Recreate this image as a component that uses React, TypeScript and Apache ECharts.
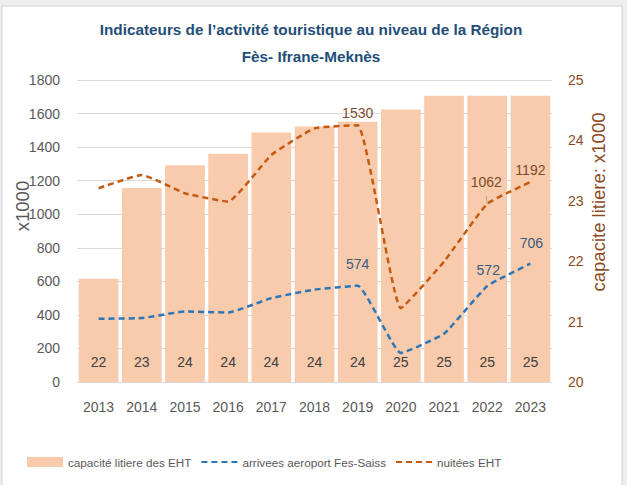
import React, { useEffect, useRef } from "react";
import * as echarts from "echarts";

const years = ["2013", "2014", "2015", "2016", "2017", "2018", "2019", "2020", "2021", "2022", "2023"];
const capacite = [21.71, 23.21, 23.59, 23.78, 24.13, 24.23, 24.31, 24.51, 24.74, 24.74, 24.74];
const arrivees = [377, 381, 420, 414, 500, 551, 574, 173, 288, 572, 706];
const nuitees = [1155, 1234, 1125, 1075, 1353, 1512, 1530, 440, 718, 1062, 1192];
const arriveesLabeled = ["2019", "2022", "2023"];
const nuiteesLabeled = ["2019", "2022", "2023"];

const FONT = "'Liberation Sans', Arial, sans-serif";

export default function App() {
  const ref = useRef<HTMLDivElement>(null);
  useEffect(() => {
    if (!ref.current) return;
    const chart = echarts.init(ref.current, null, { renderer: "svg" });
    const labelOffsets: Record<string, number[]> = {
      n2019: [0, 0], n2022: [-1, -10], n2023: [0, 0],
      a2019: [0, -10], a2022: [1, -4], a2023: [1, -8],
    };
    const mkLabel = (key: string, color: string) => ({
      show: true,
      position: "top",
      offset: labelOffsets[key],
      fontFamily: FONT,
      fontSize: 14,
      color,
    });
    chart.setOption({
      animation: false,
      backgroundColor: "#ffffff",
      textStyle: { fontFamily: FONT },
      graphic: [
        { type: "rect", shape: { x: 0, y: 0, width: 627, height: 485 }, style: { fill: "#eeeeee" }, z: -10 },
        { type: "rect", shape: { x: 2, y: 6, width: 620, height: 485 }, style: { fill: "#ffffff", stroke: "#d0d0d0", lineWidth: 1 }, z: -9 },
      ],
      title: {
        text: "Indicateurs de l’activité touristique au niveau de la Région\nFès- Ifrane-Meknès",
        left: 306,
        textAlign: "center",
        top: 11,
        textStyle: { fontFamily: FONT, fontSize: 15.3, fontWeight: "bold", color: "#1F4E79", lineHeight: 27 },
      },
      legend: {
        bottom: 12,
        left: 22,
        itemWidth: 36,
        itemHeight: 10,
        itemGap: 9,
        textStyle: { fontFamily: FONT, fontSize: 11.7, color: "#595959" },
        data: [
          { name: "capacité litiere des EHT", icon: "rect" },
          { name: "arrivees aeroport Fes-Saiss", itemStyle: { opacity: 0 } },
          { name: "nuitées EHT", itemStyle: { opacity: 0 } },
        ],
      },
      grid: { left: 77, right: 75, top: 80, bottom: 103, containLabel: false, outerBoundsMode: "none" },
      xAxis: {
        type: "category",
        data: years,
        axisLine: { lineStyle: { color: "#d9d9d9", width: 1 } },
        axisTick: { show: false },
        axisLabel: { fontFamily: FONT, fontSize: 14, color: "#595959", margin: 18 },
      },
      yAxis: [
        {
          type: "value",
          min: 0,
          max: 1800,
          interval: 200,
          name: "x1000",
          nameLocation: "middle",
          nameGap: 45,
          nameMoveOverlap: false,
          nameRotate: 90,
          nameTextStyle: { fontFamily: FONT, fontSize: 18.5, color: "#595959", padding: [0, 0, 0, 50] },
          axisLine: { show: false },
          axisTick: { show: false },
          axisLabel: { fontFamily: FONT, fontSize: 14, color: "#595959", margin: 17, formatter: (v: number) => String(v) },
          splitLine: { lineStyle: { color: "#d9d9d9", width: 1 } },
        },
        {
          type: "value",
          min: 20,
          max: 25,
          interval: 1,
          name: "capacite litiere: x1000",
          nameLocation: "middle",
          nameGap: 37,
          nameMoveOverlap: false,
          nameRotate: 90,
          nameTextStyle: { fontFamily: FONT, fontSize: 18.5, color: "#8B4A1E", padding: [0, 0, 0, 58] },
          axisLine: { show: false },
          axisTick: { show: false },
          axisLabel: { fontFamily: FONT, fontSize: 14, color: "#8B4A1E", margin: 16 },
          splitLine: { show: false },
        },
      ],
      series: [
        {
          name: "capacité litiere des EHT",
          type: "bar",
          yAxisIndex: 1,
          data: capacite,
          barCategoryGap: "8%",
          itemStyle: { color: "#F8CBAD" },
          label: {
            show: true,
            position: "insideBottom",
            distance: 13,
            fontFamily: FONT,
            fontSize: 14,
            color: "#404040",
            formatter: (p: any) => String(Math.round(p.value)),
          },
          z: 1,
        },
        {
          name: "arrivees aeroport Fes-Saiss",
          type: "line",
          yAxisIndex: 0,
          smooth: 0.12,
          symbol: "circle",
          symbolSize: 0.1,
          showSymbol: true,
          lineStyle: { color: "#2E75B6", width: 2.5, type: [6, 4] },
          itemStyle: { color: "#2E75B6" },
          data: arrivees.map((v, i) => ({
            value: v,
            label: arriveesLabeled.includes(years[i]) ? mkLabel("a" + years[i], "#3A5A80") : { show: false },
          })),
          z: 3,
        },
        {
          name: "nuitées EHT",
          type: "line",
          yAxisIndex: 0,
          smooth: 0.12,
          symbol: "circle",
          symbolSize: 0.1,
          showSymbol: true,
          lineStyle: { color: "#C55A11", width: 2.5, type: [6, 4] },
          itemStyle: { color: "#C55A11" },
          data: nuitees.map((v, i) => ({
            value: v,
            label: nuiteesLabeled.includes(years[i]) ? mkLabel("n" + years[i], "#7F4A2A") : { show: false },
            labelLine: years[i] === "2022" ? { show: true, lineStyle: { color: "#a6a6a6", width: 1 } } : undefined,
          })),
          z: 3,
        },
      ],
    });
    return () => chart.dispose();
  }, []);
  return (
    <div
      ref={ref}
      style={{ position: "fixed", left: 0, top: 0, width: 627, height: 485 }}
    />
  );
}
